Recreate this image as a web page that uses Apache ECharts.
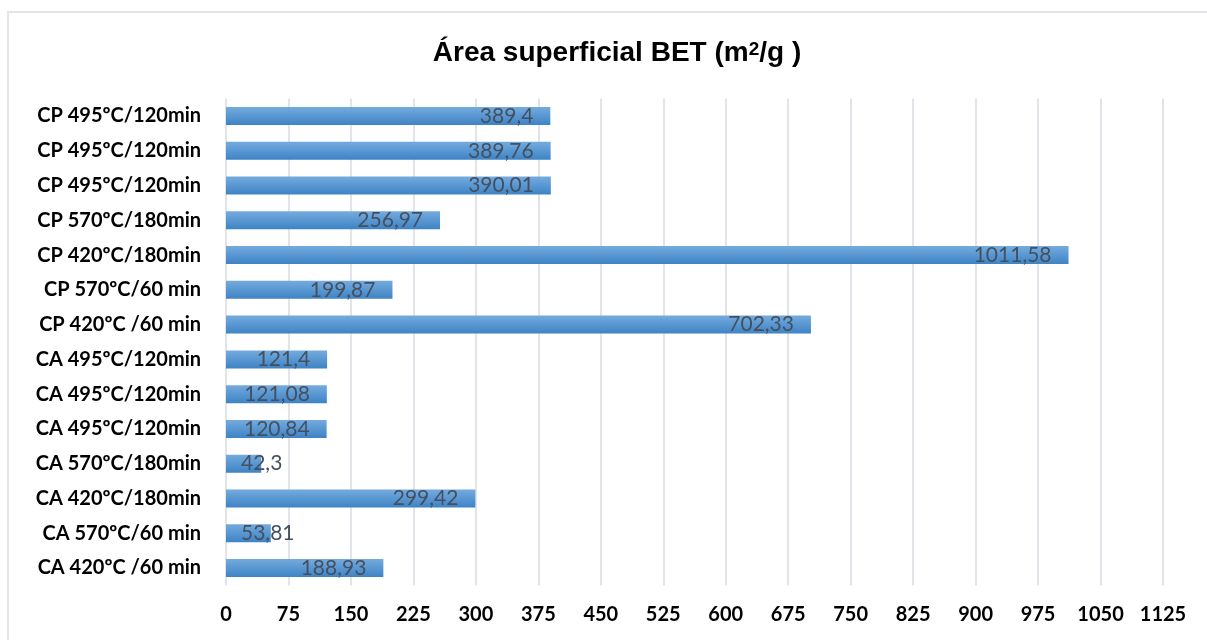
<!DOCTYPE html>
<html>
<head>
<meta charset="utf-8">
<script src="https://cdn.jsdelivr.net/npm/echarts@6/dist/echarts.min.js"></script>
<style>
  html, body { margin: 0; padding: 0; background: #fff; }
  #chart { width: 1207px; height: 640px; }
</style>
</head>
<body>
<div id="chart"></div>
<script>
// Samples, listed bottom to top
const categories = [
  'CA 420ºC /60 min',
  'CA 570ºC/60 min',
  'CA 420ºC/180min',
  'CA 570ºC/180min',
  'CA 495ºC/120min',
  'CA 495ºC/120min',
  'CA 495ºC/120min',
  'CP 420ºC /60 min',
  'CP 570ºC/60 min',
  'CP 420ºC/180min',
  'CP 570ºC/180min',
  'CP 495ºC/120min',
  'CP 495ºC/120min',
  'CP 495ºC/120min'
];

// BET surface area (m²/g)
const areaValues = [188.93, 53.81, 299.42, 42.3, 120.84, 121.08, 121.4, 702.33, 199.87, 1011.58, 256.97, 390.01, 389.76, 389.4];

const xTicks = { min: 0, max: 1125, interval: 75 };

const labelFont = 'Lato, "Open Sans", sans-serif';

// Short bars keep their label pinned near the base
const seriesData = areaValues.map(v => ({
  value: v,
  label: v < 100
    ? { position: 'insideLeft', distance: 15 }
    : { position: 'insideRight', distance: 17 }
}));

const chart = echarts.init(document.getElementById('chart'), null, { renderer: 'canvas' });

chart.setOption({
  animation: false,
  backgroundColor: '#ffffff',
  graphic: [{
    type: 'rect',
    shape: { x: 8, y: 12, width: 1220, height: 660 },
    style: { fill: 'none', stroke: '#e1e5ea', lineWidth: 2 },
    silent: true,
    z: -1
  }],
  title: {
    text: 'Área superficial BET (m{sup|2}/g )',
    left: 612,
    textAlign: 'center',
    top: 32,
    textStyle: {
      fontFamily: '"Liberation Sans", Arial, sans-serif',
      fontWeight: 'bold',
      fontSize: 28,
      lineHeight: 32,
      color: '#000000',
      rich: {
        sup: {
          fontFamily: '"Liberation Sans", Arial, sans-serif',
          fontWeight: 'bold',
          fontSize: 19,
          lineHeight: 19,
          verticalAlign: 'top',
          padding: [3, 0, 0, 0],
          color: '#000000'
        }
      }
    }
  },
  grid: {
    left: 226,
    right: 44,
    top: 98.6,
    bottom: 54.6,
    containLabel: false
  },
  xAxis: {
    type: 'value',
    min: xTicks.min,
    max: xTicks.max,
    interval: xTicks.interval,
    axisLine: { show: false },
    axisTick: { show: false },
    splitLine: { show: true, lineStyle: { color: '#e1e5ea', width: 2 } },
    axisLabel: {
      margin: 19,
      fontFamily: labelFont,
      fontWeight: 'bold',
      fontSize: 20,
      color: '#000000',
      formatter: v => String(v)
    }
  },
  yAxis: {
    type: 'category',
    data: categories,
    axisLine: { show: false },
    axisTick: { show: false },
    splitLine: { show: false },
    axisLabel: {
      margin: 25,
      fontFamily: labelFont,
      fontWeight: 'bold',
      fontSize: 20,
      color: '#000000'
    }
  },
  series: [{
    type: 'bar',
    data: seriesData,
    barWidth: 18,
    itemStyle: {
      color: new echarts.graphic.LinearGradient(0, 0, 0, 1, [
        { offset: 0, color: '#74abde' },
        { offset: 1, color: '#3e83c5' }
      ])
    },
    label: {
      show: true,
      fontFamily: labelFont,
      fontSize: 21,
      color: '#44505f',
      formatter: p => String(p.value).replace('.', ',')
    }
  }]
});
</script>
</body>
</html>
